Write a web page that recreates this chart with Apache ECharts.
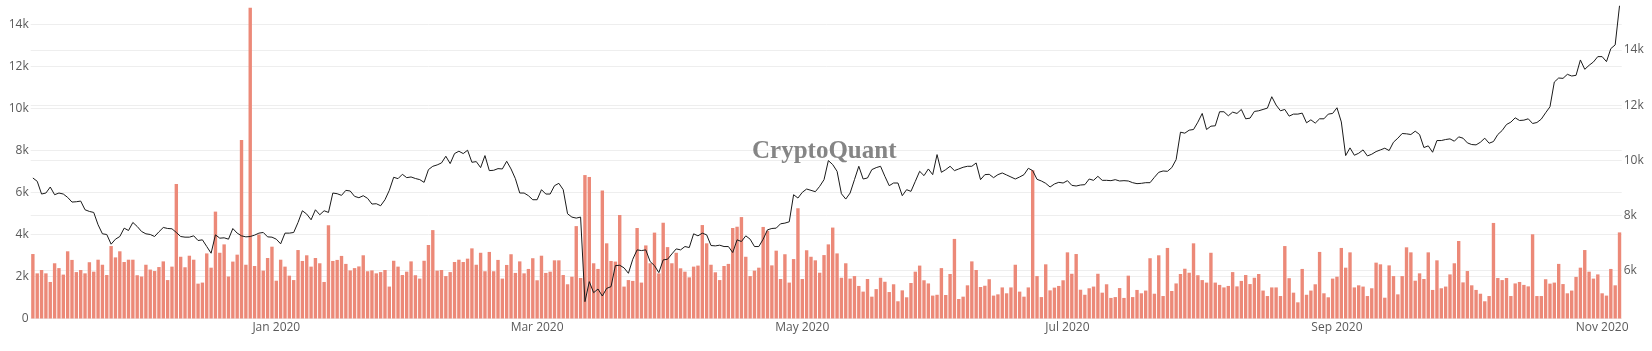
<!DOCTYPE html>
<html>
<head>
<meta charset="utf-8">
<script src="https://cdn.jsdelivr.net/npm/echarts@6.0.0/dist/echarts.min.js"></script>
<style>
    html, body { margin: 0; padding: 0; background: #fff; }
    #main { width: 1652px; height: 351px; }
</style>
</head>
<body>
<div id="main"></div>
<script>
// daily bars (thousands), 2019-11-06 .. 2020-11-05
var flowK = [
    3.07, 2.15, 2.31, 2.15, 1.74, 2.63, 2.4, 2.09, 3.2, 2.79, 2.21, 2.31, 2.15, 2.68, 2.23, 2.8, 2.56, 2.07, 3.45, 2.91,
    3.2, 2.69, 2.8, 2.8, 2.06, 2.0, 2.56, 2.33, 2.26, 2.45, 2.72, 1.83, 2.47, 6.4, 2.94, 2.44, 2.99, 2.8, 1.66, 1.71,
    3.1, 2.42, 5.09, 3.13, 3.53, 2.0,
    2.71, 3.04, 8.5, 2.56, 14.8, 2.5, 4.0, 2.28, 2.88, 3.42, 1.8, 2.8, 2.47, 2.04, 1.83, 3.26, 2.74, 3.01, 2.47, 2.88,
    2.63, 1.74, 4.44, 2.74, 2.79, 2.98, 2.6, 2.29, 2.4, 2.48, 3.01, 2.25, 2.29, 2.15, 2.21, 2.31, 1.52, 2.75, 2.47, 2.07,
    2.23, 2.72, 2.06, 1.9, 2.75,
    3.5, 4.21, 2.28, 2.31, 2.02, 2.21, 2.69, 2.8, 2.69, 2.85, 3.34, 2.56, 3.13, 2.25, 3.17, 2.25, 2.79, 1.9, 2.55, 3.06,
    2.17, 2.72, 2.15, 2.36, 2.87, 1.82, 2.99, 2.17, 2.23, 2.77, 2.77, 2.07, 1.63, 1.99, 4.4, 1.93, 6.83, 6.74, 2.63, 2.36,
    6.09, 3.58, 2.74, 2.71, 4.93,
    1.52, 1.83, 1.79, 4.31, 1.71, 3.48, 2.63, 4.09, 2.15, 4.56, 3.4, 2.63, 3.13, 2.39, 2.23, 1.96, 2.47, 2.52, 4.45, 3.58,
    2.56, 2.2, 1.83, 2.5, 2.6, 4.31, 4.37, 4.83, 2.94, 2.02, 2.28, 2.42, 4.36, 4.18, 2.53, 3.23, 1.88, 3.06, 1.71, 2.83,
    5.25, 1.88, 3.25, 2.94, 2.77, 2.18,
    3.02, 3.53, 4.33, 3.1, 1.94, 2.63, 1.9, 2.02, 1.55, 1.28, 1.88, 1.04, 1.4, 1.94, 1.75, 1.26, 1.63, 0.82, 1.34, 1.01,
    1.69, 2.23, 2.52, 1.82, 1.67, 1.09, 1.13, 2.4, 1.12, 2.12, 3.79, 0.93, 1.04, 1.58, 2.72, 2.31, 1.5, 1.56, 1.87, 1.09,
    1.15, 1.48, 1.2, 1.48, 2.56, 1.28,
    1.04, 1.48, 7.06, 2.02, 1.02, 2.58, 1.34, 1.47, 1.55, 1.82, 3.15, 2.13, 3.07, 1.37, 1.13, 1.44, 1.52, 2.13, 1.23, 1.63,
    0.98, 1.02, 1.45, 0.98, 2.04, 1.02, 1.36, 1.2, 1.33, 2.87, 1.18, 3.01, 1.07, 3.36, 1.31, 1.67, 2.12, 2.37, 2.18, 3.58,
    2.06, 1.83, 1.71, 3.13, 1.71,
    1.6, 1.48, 1.55, 2.21, 1.53, 1.79, 2.07, 1.64, 1.94, 2.12, 1.33, 1.07, 1.48, 1.48, 1.07, 3.45, 1.92, 1.23, 0.77, 2.36,
    1.13, 1.33, 1.63, 3.17, 1.2, 1.01, 1.9, 1.99, 3.36, 2.42, 3.15, 1.48, 1.58, 1.52, 1.07, 1.44, 2.66, 2.58, 0.99, 2.53,
    2.02, 1.15, 2.02, 3.39, 3.15, 1.8,
    2.15, 1.88, 3.15, 1.36, 2.77, 1.44, 1.52, 2.1, 2.63, 3.69, 1.72, 2.26, 1.58, 1.36, 1.18, 0.82, 1.07, 4.55, 1.93, 1.83,
    1.93, 1.07, 1.67, 1.74, 1.6, 1.53, 4.01, 1.07, 1.07, 1.87, 1.66, 1.71, 2.6, 1.64, 1.2, 1.33, 1.98, 2.42, 3.26, 2.23,
    1.9, 2.1, 1.2, 1.09, 2.36, 1.58, 4.1
];

// price line (right axis)
var price = [
    9359, 9238, 8777, 8814, 9032, 8753, 8814, 8777, 8656, 8486, 8498, 8522, 8207, 8147, 8110, 7662, 7335, 7311, 6959, 7141,
    7238, 7541, 7456, 7747, 7602, 7420, 7335, 7311, 7238, 7408, 7565, 7529, 7517, 7384, 7238, 7214, 7214, 7262, 7093, 7117,
    6875, 6632, 7299, 7178, 7190, 7141,
    7527, 7360, 7262, 7225, 7238, 7287, 7360, 7384, 7225, 7214, 7141, 6971, 7360, 7360, 7384, 7747, 8171, 8050, 7844, 8207,
    8026, 8171, 8110, 8814, 8789, 8729, 8911, 8887, 8693, 8644, 8717, 8620, 8414, 8426, 8353, 8571, 8911, 9384, 9335, 9493,
    9371, 9396, 9340, 9300, 9200,
    9662, 9783, 9832, 9904, 10147, 9880, 10244, 10328, 10244, 10365, 9928, 9953, 9735, 10171, 9626, 9638, 9698, 9686, 9965, 9686,
    9334, 8814, 8814, 8717, 8571, 8571, 8935, 8777, 8777, 9080, 9165, 8935, 8062, 7941, 7905, 7941, 4875, 5602, 5202, 5335,
    5081, 5359, 5420, 6183, 6196, 6100,
    5904, 6413, 6753, 6728, 6753, 6329, 6183, 5929, 6390, 6413, 6607, 6789, 6753, 6874, 6838, 7335, 7262, 7359, 7298, 6911,
    6898, 6923, 6874, 6874, 6656, 7117, 7056, 7262, 7141, 6874, 6874, 7141, 7480, 7529, 7541, 7699, 7723, 7771, 8753, 8632,
    8838, 8959, 8911, 8862, 9056,
    9298, 9989, 9844, 9601, 8789, 8595, 8813, 9298, 9783, 9322, 9359, 9662, 9735, 9783, 9419, 9080, 9177, 9177, 8717, 8935,
    8874, 9238, 9601, 9444, 9686, 9480, 10207, 9565, 9662, 9783, 9626, 9686, 9747, 9783, 9783, 9904, 9298, 9480, 9492, 9371,
    9480, 9541, 9468, 9395, 9322, 9395,
    9480, 9710, 9626, 9310, 9250, 9165, 9032, 9141, 9201, 9177, 9262, 9092, 9068, 9104, 9117, 9322, 9274, 9419, 9274, 9274,
    9262, 9298, 9250, 9262, 9250, 9189, 9153, 9165, 9189, 9189, 9383, 9565, 9613, 9601, 9735, 10025, 11019, 10983, 11092, 11116,
    11383, 11698, 11116, 11237, 11250,
    11760, 11760, 11613, 11746, 11698, 11843, 11504, 11528, 11771, 11795, 11843, 11892, 12304, 12001, 11795, 11843, 11601, 11674, 11674, 11710,
    11359, 11467, 11347, 11504, 11504, 11674, 11698, 11904, 11390, 10171, 10450, 10183, 10256, 10377, 10159, 10220, 10317, 10377, 10438, 10353,
    10656, 10801, 10971, 10959, 10935, 11056,
    10934, 10462, 10523, 10292, 10716, 10716, 10753, 10777, 10692, 10850, 10801, 10631, 10571, 10559, 10656, 10801, 10619, 10680, 10934, 11080,
    11298, 11383, 11540, 11443, 11455, 11504, 11334, 11370, 11492, 11722, 11940, 12837, 12982, 12970, 13116, 13055, 13080, 13637, 13298, 13443,
    13564, 13758, 13758, 13576, 14049, 14183, 15601
];

// x tick labels
var tickDates = ['2020-01-01', '2020-03-01', '2020-05-01', '2020-07-01', '2020-09-01', '2020-11-01'];
var tickLabels = ['Jan 2020', 'Mar 2020', 'May 2020', 'Jul 2020', 'Sep 2020', 'Nov 2020'];

// category dates, one per bar
var dates = [];
var t0 = Date.UTC(2019, 10, 6);
for (var i = 0; i < flowK.length; i++) {
    dates.push(new Date(t0 + i * 86400000).toISOString().slice(0, 10));
}

var labelFont = {color: '#5a5a5a', fontFamily: 'Open Sans', fontSize: 12};

var myChart = echarts.init(document.getElementById('main'));
var option = {
    animation: false,
    grid: {left: 30.7, right: 30.3, top: 0, bottom: 32.5},
    xAxis: {
        type: 'category',
        data: dates,
        axisLine: {show: false},
        axisTick: {show: false},
        axisLabel: Object.assign({
            margin: 3,
            interval: function (idx, val) {
                return tickDates.indexOf(val) >= 0;
            },
            formatter: function (val) {
                var k = tickDates.indexOf(val);
                return k >= 0 ? tickLabels[k] : '';
            }
        }, labelFont)
    },
    yAxis: [
        {
            type: 'value',
            min: 0,
            max: 15.167,
            interval: 2,
            axisLine: {show: false},
            axisTick: {show: false},
            axisLabel: Object.assign({
                margin: 2,
                showMaxLabel: false,
                formatter: function (v) { return v === 0 ? '0' : v + 'k'; }
            }, labelFont),
            splitLine: {lineStyle: {color: '#eeeeee', width: 1}, showMaxLine: false}
        },
        {
            type: 'value',
            position: 'right',
            min: 4266,
            max: 15810,
            splitNumber: 5,
            axisLine: {show: false},
            axisTick: {show: false},
            axisLabel: Object.assign({
                margin: 2,
                showMinLabel: false,
                showMaxLabel: false,
                formatter: function (v) { return (v / 1000) + 'k'; }
            }, labelFont),
            splitLine: {lineStyle: {color: '#eeeeee', width: 1}, showMinLine: false, showMaxLine: false}
        }
    ],
    graphic: [{
        type: 'text',
        x: 752,
        y: 152,
        z: 1,
        style: {
            text: 'CryptoQuant',
            font: 'bold 25px "Liberation Serif"',
            fill: '#858585',
            textAlign: 'left',
            textVerticalAlign: 'middle'
        }
    }],
    series: [
        {
            name: 'flow',
            type: 'bar',
            data: flowK,
            barCategoryGap: '22%',
            itemStyle: {color: '#ec8978'}
        },
        {
            name: 'price',
            type: 'line',
            yAxisIndex: 1,
            data: price,
            symbol: 'none',
            z: 5,
            lineStyle: {color: '#1a1a1a', width: 1}
        }
    ]
};
myChart.setOption(option);
</script>
</body>
</html>
